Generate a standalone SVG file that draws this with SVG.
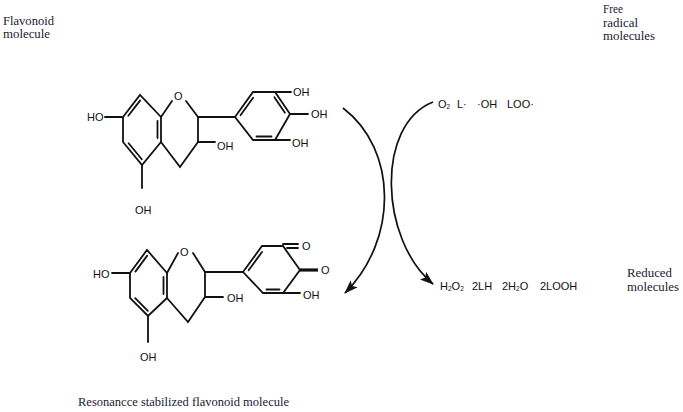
<svg xmlns="http://www.w3.org/2000/svg" width="683" height="412" viewBox="0 0 683 412">
<style>
.lbl{font-family:"Liberation Serif","DejaVu Serif",serif;font-size:12px;fill:#1a1a2e}
.chem{font-family:"Liberation Sans",Arial,sans-serif;font-size:11px;fill:#111}
.sub{font-size:6.5px}
.b{stroke:#111;stroke-width:1.8;fill:none;stroke-linecap:round}
.bold{stroke:#111;stroke-width:3.2;fill:none}
.arr{stroke:#111;stroke-width:1.7;fill:none}
</style>
<defs>
<marker id="ah" markerUnits="userSpaceOnUse" markerWidth="14" markerHeight="10" viewBox="0 0 14 10" refX="13" refY="5" orient="auto">
<path d="M0,0 L14,5 L0,10 L3,5 z" fill="#111"/>
</marker>
</defs>
<rect width="683" height="412" fill="#fff"/>

<g id="label-flavonoid">
<text class="lbl" x="3" y="25" textLength="51" lengthAdjust="spacingAndGlyphs">Flavonoid</text>
<text class="lbl" x="3" y="38" textLength="47" lengthAdjust="spacingAndGlyphs">molecule</text>
</g>
<g id="label-free">
<text class="lbl" x="603" y="13" textLength="20" lengthAdjust="spacingAndGlyphs">Free</text>
<text class="lbl" x="603" y="27" textLength="35" lengthAdjust="spacingAndGlyphs">radical</text>
<text class="lbl" x="603" y="40" textLength="52" lengthAdjust="spacingAndGlyphs">molecules</text>
</g>
<g id="label-reduced">
<text class="lbl" x="627" y="277" textLength="45" lengthAdjust="spacingAndGlyphs">Reduced</text>
<text class="lbl" x="627" y="291" textLength="52" lengthAdjust="spacingAndGlyphs">molecules</text>
</g>
<g id="label-resonance">
<text class="lbl" x="78" y="406" textLength="211" lengthAdjust="spacingAndGlyphs">Resonancce stabilized flavonoid molecule</text>
</g>

<g id="flavonoid">
<path class="b" d="M123,117 L140,95 L161,117 L161,142 L142,165 L123,142 Z"/>
<path class="b" d="M128.3,115.8 L140.2,100.4 M157.5,121 L157.5,138 M141.8,159.3 L128.6,143.3"/>
<path class="b" d="M105,117 L123,117 M142,165 L142,188"/>
<path class="b" d="M161,117 L172,101 M186,101 L198,117 L198,142 L180,167 L161,142"/>
<path class="b" d="M198,142 L215,142 M198,117 L235,117"/>
<path class="b" d="M235,117 L253,92 L275,92 L290,114 L275,140 L253,140 Z"/>
<path class="b" d="M240.5,115.3 L253.1,97.8 M274.4,97.3 L284.9,112.7 M256.5,136.5 L271.5,136.5"/>
<path class="b" d="M275,92 L291,92 M290,114 L308,114 M275,140 L290,140"/>
<text class="chem" x="87" y="121">HO</text>
<text class="chem" x="174" y="100">O</text>
<text class="chem" x="217" y="150">OH</text>
<text class="chem" x="135" y="214">OH</text>
<text class="chem" x="293" y="96">OH</text>
<text class="chem" x="311" y="118">OH</text>
<text class="chem" x="292" y="147">OH</text>
</g>

<g id="resonance-flavonoid">
<path class="b" d="M130,273 L147,250 L167,273 L167,298 L148,316 L130,298 Z"/>
<path class="b" d="M135.4,271.6 L147.2,255.6 M163.5,277 L163.5,294 M147.8,310.8 L135.2,298.2"/>
<path class="b" d="M112,273 L130,273 M148,316 L148,342"/>
<path class="b" d="M167,273 L178,253 M193,253 L205,272 L205,297 L188,322 L167,298"/>
<path class="b" d="M205,297 L223,297 M205,272 L243,272"/>
<path class="b" d="M243,272 L262,246 L283,246 L300,270 L283,293 L263,293 Z"/>
<path class="b" d="M248.6,270.2 L262,252 M266.5,289.5 L279.5,289.5"/>
<path class="b" d="M283,244 L298,244 M287,248 L298,248 M283,293 L300,293"/>
<path class="bold" d="M300,270 L318,270"/>
<text class="chem" x="93" y="278">HO</text>
<text class="chem" x="180" y="256">O</text>
<text class="chem" x="227" y="302">OH</text>
<text class="chem" x="140" y="361">OH</text>
<text class="chem" x="302" y="250">O</text>
<text class="chem" x="321" y="274">O</text>
<text class="chem" x="303" y="299">OH</text>
</g>

<g id="free-radicals">
<text class="chem" y="108"><tspan x="438">O<tspan class="sub" dy="1">2</tspan></tspan><tspan x="457" dy="-1">L·</tspan><tspan x="477">·OH</tspan><tspan x="507">LOO·</tspan></text>
</g>
<g id="reduced-molecules">
<text class="chem" y="290"><tspan x="440">H<tspan class="sub" dy="1">2</tspan><tspan dy="-1">O</tspan><tspan class="sub" dy="1">2</tspan></tspan><tspan x="472" dy="-1">2LH</tspan><tspan x="502">2H<tspan class="sub" dy="1">2</tspan><tspan dy="-1">O</tspan></tspan><tspan x="540">2LOOH</tspan></text>
</g>

<g id="connectors">
<path class="arr" d="M343,108 C398,150 398,240 345,293" marker-end="url(#ah)"/>
<path class="arr" d="M433,102 C375,125 380,240 433,284" marker-end="url(#ah)"/>
</g>
</svg>
